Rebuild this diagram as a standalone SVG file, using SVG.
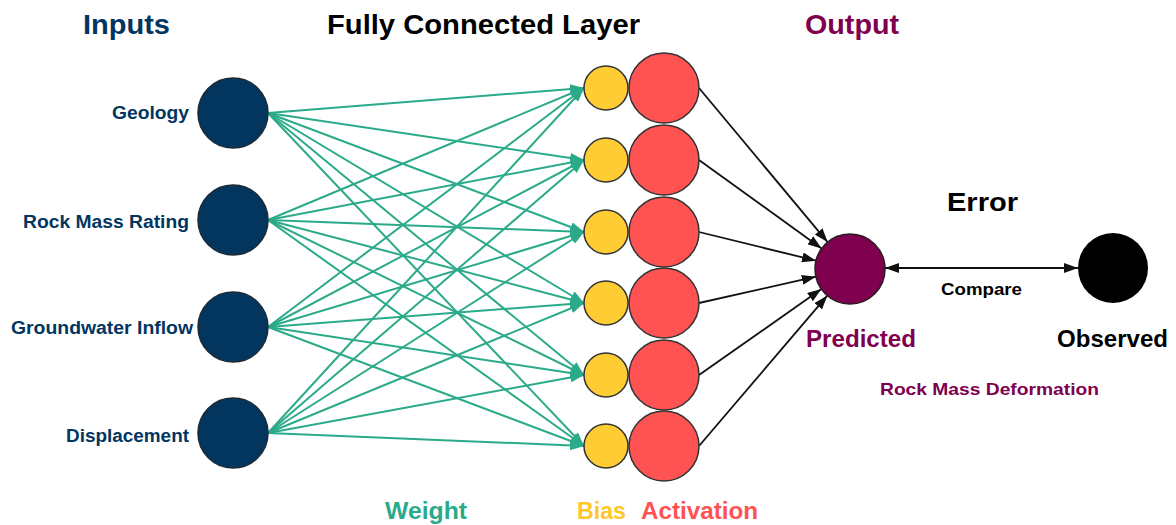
<svg xmlns="http://www.w3.org/2000/svg" width="1176" height="525" viewBox="0 0 1176 525">
  <defs>
    <style>
      text { font-family: "Liberation Sans", Arial, sans-serif; font-weight: bold; }
      .title { font-size: 28px; }
      .inlabel { font-size: 18px; fill: #02365F; }
      .legend { font-size: 24px; }
      .input { fill: #02365F; stroke: #1d2a36; stroke-width: 1.5; }
      .bias { fill: #FFCD33; stroke: #333; stroke-width: 1.5; }
      .act { fill: #FF5252; stroke: #333; stroke-width: 1.5; }
      .weight { stroke: #2BAA8A; stroke-width: 2; fill: none; marker-end: url(#arrowGreen); }
      .link { stroke: #111; stroke-width: 1.8; fill: none; marker-end: url(#arrowBlack); }
    </style>
    <marker id="arrowGreen" viewBox="0 0 14 10" refX="14" refY="5" markerWidth="14" markerHeight="10" markerUnits="userSpaceOnUse" orient="auto">
      <path d="M0,0 L14,5 L0,10 Z" fill="#2BAA8A"/>
    </marker>
    <marker id="arrowBlack" viewBox="0 0 14 10" refX="14" refY="5" markerWidth="14" markerHeight="10" markerUnits="userSpaceOnUse" orient="auto-start-reverse">
      <path d="M0,0 L14,5 L0,10 Z" fill="#111"/>
    </marker>
  </defs>

  <rect width="1176" height="525" fill="#ffffff"/>

  <!-- column headings -->
  <text class="title" x="83" y="34" textLength="87" lengthAdjust="spacingAndGlyphs" fill="#02365F">Inputs</text>
  <text class="title" x="327" y="34" textLength="313" lengthAdjust="spacingAndGlyphs" fill="#000">Fully Connected Layer</text>
  <text class="title" x="805" y="34" textLength="94" lengthAdjust="spacingAndGlyphs" fill="#7F004F">Output</text>

  <!-- weights and activation links -->
  <g id="connectors">
    <g id="weights">
      <path class="weight" d="M268,113 L584,88"/>
      <path class="weight" d="M268,113 L584,160"/>
      <path class="weight" d="M268,113 L584,232"/>
      <path class="weight" d="M268,113 L584,303"/>
      <path class="weight" d="M268,113 L584,375"/>
      <path class="weight" d="M268,113 L584,446"/>
      <path class="weight" d="M268,220 L584,88"/>
      <path class="weight" d="M268,220 L584,160"/>
      <path class="weight" d="M268,220 L584,232"/>
      <path class="weight" d="M268,220 L584,303"/>
      <path class="weight" d="M268,220 L584,375"/>
      <path class="weight" d="M268,220 L584,446"/>
      <path class="weight" d="M268,327 L584,88"/>
      <path class="weight" d="M268,327 L584,160"/>
      <path class="weight" d="M268,327 L584,232"/>
      <path class="weight" d="M268,327 L584,303"/>
      <path class="weight" d="M268,327 L584,375"/>
      <path class="weight" d="M268,327 L584,446"/>
      <path class="weight" d="M268,433 L584,88"/>
      <path class="weight" d="M268,433 L584,160"/>
      <path class="weight" d="M268,433 L584,232"/>
      <path class="weight" d="M268,433 L584,303"/>
      <path class="weight" d="M268,433 L584,375"/>
      <path class="weight" d="M268,433 L584,446"/>
    </g>
    <g id="outputs">
      <path class="link" d="M699,88 L827.6,242.1"/>
      <path class="link" d="M699,160 L821.6,248.5"/>
      <path class="link" d="M699,232 L816,260.7"/>
      <path class="link" d="M699,303 L815.9,276.7"/>
      <path class="link" d="M699,375 L821.4,289.1"/>
      <path class="link" d="M699,446 L827.3,295.6"/>
    </g>
    <path id="compare" class="link" d="M885,268 L1078,268" marker-start="url(#arrowBlack)"/>
  </g>

  <!-- input nodes -->
  <g id="in-geology">
    <circle class="input" cx="233" cy="113" r="35"/>
    <text class="inlabel" x="112" y="119" textLength="77" lengthAdjust="spacingAndGlyphs">Geology</text>
  </g>
  <g id="in-rmr">
    <circle class="input" cx="233" cy="220" r="35"/>
    <text class="inlabel" x="23" y="228" textLength="166" lengthAdjust="spacingAndGlyphs">Rock Mass Rating</text>
  </g>
  <g id="in-groundwater">
    <circle class="input" cx="233" cy="327" r="35"/>
    <text class="inlabel" x="11" y="334" textLength="182" lengthAdjust="spacingAndGlyphs">Groundwater Inflow</text>
  </g>
  <g id="in-displacement">
    <circle class="input" cx="233" cy="433" r="35"/>
    <text class="inlabel" x="66" y="442" textLength="123" lengthAdjust="spacingAndGlyphs">Displacement</text>
  </g>

  <!-- hidden neurons: bias + activation -->
  <g id="neuron-1"><circle class="bias" cx="606" cy="88" r="22"/><circle class="act" cx="664" cy="88" r="35"/></g>
  <g id="neuron-2"><circle class="bias" cx="606" cy="160" r="22"/><circle class="act" cx="664" cy="160" r="35"/></g>
  <g id="neuron-3"><circle class="bias" cx="606" cy="232" r="22"/><circle class="act" cx="664" cy="232" r="35"/></g>
  <g id="neuron-4"><circle class="bias" cx="606" cy="303" r="22"/><circle class="act" cx="664" cy="303" r="35"/></g>
  <g id="neuron-5"><circle class="bias" cx="606" cy="375" r="22"/><circle class="act" cx="664" cy="375" r="35"/></g>
  <g id="neuron-6"><circle class="bias" cx="606" cy="446" r="22"/><circle class="act" cx="664" cy="446" r="35"/></g>

  <!-- predicted output -->
  <g id="predicted">
    <circle cx="850" cy="269" r="35" fill="#7F004F" stroke="#2a1a22" stroke-width="1.5"/>
    <text class="legend" x="806" y="347" textLength="110" lengthAdjust="spacingAndGlyphs" fill="#7F004F">Predicted</text>
  </g>

  <!-- observed value -->
  <g id="observed">
    <circle cx="1113" cy="268" r="35" fill="#000"/>
    <text class="legend" x="1057" y="347" textLength="111" lengthAdjust="spacingAndGlyphs" fill="#000">Observed</text>
  </g>

  <text x="947" y="211" font-size="26" textLength="71" lengthAdjust="spacingAndGlyphs" fill="#000">Error</text>
  <text x="941" y="295" font-size="17" textLength="81" lengthAdjust="spacingAndGlyphs" fill="#000">Compare</text>
  <text x="880" y="395" font-size="17" textLength="219" lengthAdjust="spacingAndGlyphs" fill="#7F004F">Rock Mass Deformation</text>

  <!-- legend -->
  <text class="legend" x="385" y="519" textLength="82" lengthAdjust="spacingAndGlyphs" fill="#2BAA8A">Weight</text>
  <text class="legend" x="577" y="519" textLength="49" lengthAdjust="spacingAndGlyphs" fill="#FFC72C">Bias</text>
  <text class="legend" x="641" y="519" textLength="117" lengthAdjust="spacingAndGlyphs" fill="#FF5252">Activation</text>
</svg>
